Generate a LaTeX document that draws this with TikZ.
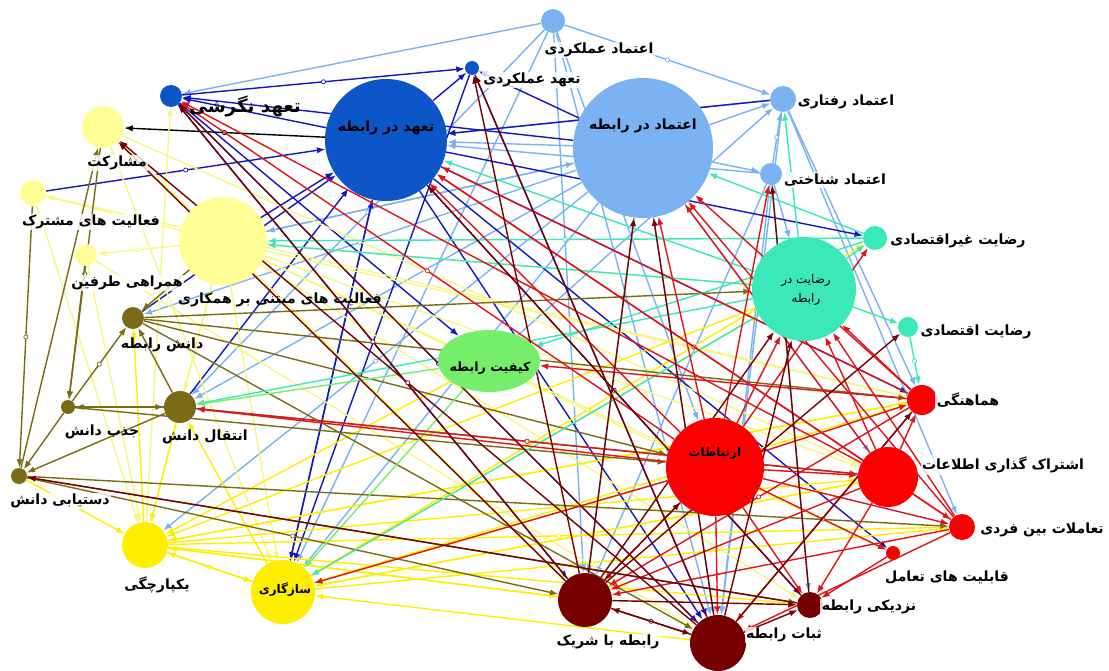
\documentclass[tikz,border=0pt]{standalone}
\usepackage{fontspec}
\newfontfamily\fafont[Script=Arabic]{DejaVu Sans}
\TeXXeTstate=1
\usetikzlibrary{positioning,arrows.meta,shapes.geometric,backgrounds,decorations.markings}
\definecolor{trBlue}{RGB}{122,178,242}
\definecolor{cmBlue}{RGB}{12,86,200}
\definecolor{cmNavy}{RGB}{22,22,190}
\definecolor{coopYel}{RGB}{255,255,150}
\definecolor{coopEdge}{RGB}{248,246,130}
\definecolor{intYel}{RGB}{255,238,0}
\definecolor{knOlive}{RGB}{122,108,22}
\definecolor{satAqua}{RGB}{58,232,184}
\definecolor{qualGreen}{RGB}{118,238,108}
\definecolor{comRed}{RGB}{250,0,0}
\definecolor{comEdge}{RGB}{225,20,25}
\definecolor{bondRed}{RGB}{118,0,0}
\newcommand\fatx[1]{\beginR #1\endR}
\tikzset{
    vtx/.style={circle, inner sep=0pt, minimum size=#1*0.5mm},
    lbl/.style={font=\fafont\bfseries\fontsize{10}{12}\selectfont, fill=white, fill opacity=0.8,
                text opacity=1, inner sep=1pt},
    inlbl/.style={font=\fafont\bfseries\fontsize{10}{12}\selectfont, align=center, inner sep=0pt},
    edge/.style={line width=1pt, -{Latex[length=6pt,width=4.5pt]}},
    mk/.style={postaction={decorate, decoration={markings,
               mark=at position #1 with {\draw[line width=0.5pt, fill=white] (0,0) circle (1.5pt);}}}},
    mk/.default=0.5,
    eTrust/.style={edge, color=trBlue},
    eCommit/.style={edge, color=cmNavy},
    eCoop/.style={edge, color=coopEdge},
    eInteg/.style={edge, color=intYel},
    eKnow/.style={edge, color=knOlive},
    eSat/.style={edge, color=satAqua},
    eQual/.style={edge, color=qualGreen},
    eComm/.style={edge, color=comEdge},
    eBond/.style={edge, color=bondRed}
}
\begin{document}
\begin{tikzpicture}[x=0.25mm, y=-0.25mm]
  \useasboundingbox (0,0) rectangle (1109,671);

  % trust
  \node[vtx=12, fill=trBlue] (trPerf) at (553,21) {};
  \node[vtx=70, fill=trBlue] (trRel) at (643,148) {};
  \node[vtx=13, fill=trBlue] (trBeh) at (783,99) {};
  \node[vtx=11, fill=trBlue] (trCog) at (771,174) {};
  % commitment
  \node[vtx=7, fill=cmBlue] (cmPerf) at (472,68) {};
  \node[vtx=11, fill=cmBlue] (cmAtt) at (171,96) {};
  \node[vtx=61, fill=cmBlue] (cmRel) at (386,140) {};
  % cooperation
  \node[vtx=21, fill=coopYel] (part) at (103,127) {};
  \node[vtx=13, fill=coopYel] (joint) at (33,193) {};
  \node[vtx=11, fill=coopYel] (accomp) at (86,255) {};
  \node[vtx=44, fill=coopYel] (coop) at (223,241) {};
  % knowledge
  \node[vtx=11, fill=knOlive] (knRel) at (133,318) {};
  \node[vtx=16, fill=knOlive] (knTr) at (180,407) {};
  \node[vtx=7, fill=knOlive] (knAbs) at (68,407) {};
  \node[vtx=8, fill=knOlive] (knAcq) at (19,476) {};
  % integration
  \node[vtx=23, fill=intYel] (integ) at (145,545) {};
  \node[vtx=32, fill=intYel] (adapt) at (283,592) {};
  % quality
  \node[ellipse, fill=qualGreen, minimum width=102*0.25mm, minimum height=62*0.25mm] (qual) at (489,361) {};
  % satisfaction
  \node[vtx=52, fill=satAqua] (satRel) at (804,289) {};
  \node[vtx=12, fill=satAqua] (satNon) at (875,238) {};
  \node[vtx=10, fill=satAqua] (satEco) at (908,327) {};
  % communication
  \node[vtx=15, fill=comRed] (coord) at (922,400) {};
  \node[vtx=49, fill=comRed] (comm) at (715,467) {};
  \node[vtx=30, fill=comRed] (info) at (888,477) {};
  \node[vtx=13, fill=comRed] (inter) at (962,527) {};
  \node[vtx=7, fill=comRed] (interCap) at (893,553) {};
  % bond
  \node[vtx=13, fill=bondRed] (close) at (810,605) {};
  \node[vtx=28, fill=bondRed] (stab) at (718,643) {};
  \node[vtx=27, fill=bondRed] (partner) at (585,600) {};

  \begin{scope}[on background layer]
    % trust links
    \foreach \a/\b in {trPerf/trBeh, trCog/trBeh, trRel/knRel, trRel/integ, trBeh/cmRel,
                       trRel/partner, trCog/close, trPerf/knTr}
      \draw[eTrust, mk] (\a) -- (\b);
    \foreach \a/\b in {trPerf/cmAtt, trPerf/partner, trPerf/stab, trPerf/adapt, trRel/cmRel,
                       trRel/trBeh, trRel/trCog, trBeh/coord, trBeh/inter, trBeh/stab,
                       trCog/cmRel, trCog/satRel, trRel/knTr, trRel/stab, trRel/adapt,
                       trRel/info, trRel/coop, trCog/partner, trPerf/comm, trCog/stab,
                       qual/trBeh, coop/trRel}
      \draw[eTrust] (\a) -- (\b);
    % commitment links
    \foreach \a/\b in {cmAtt/cmPerf, joint/cmRel, cmRel/satNon, cmAtt/stab, trRel/cmAtt,
                       cmRel/close}
      \draw[eCommit, mk] (\a) -- (\b);
    \foreach \a/\b in {cmRel/cmAtt, cmRel/cmPerf, trRel/cmPerf, trBeh/cmRel, cmRel/coord,
                       cmRel/interCap, cmRel/stab, cmPerf/adapt, cmRel/adapt, knTr/cmRel,
                       adapt/cmRel, coop/cmRel, cmAtt/qual, cmAtt/partner, cmPerf/stab,
                       knRel/cmRel}
      \draw[eCommit] (\a) -- (\b);
    \draw[edge, mk] (cmRel) -- (part);
    % cooperation links
    \foreach \a/\b in {coop/part, coop/joint, coop/accomp, integ/cmAtt, coop/comm,
                       coop/interCap, part/info}
      \draw[eCoop, mk] (\a) -- (\b);
    \foreach \a/\b in {coop/knRel, coop/knTr, coop/integ, coop/adapt, coop/coord,
                       coop/satRel, coop/info, coop/close, joint/integ, accomp/integ,
                       part/adapt, joint/coord, accomp/stab, coop/partner, part/partner}
      \draw[eCoop] (\a) -- (\b);
    % integration links
    \foreach \a/\b in {integ/adapt, integ/inter, adapt/satNon, knAcq/integ}
      \draw[eInteg, mk] (\a) -- (\b);
    \foreach \a/\b in {integ/knRel, integ/coord, integ/info, integ/close, integ/partner,
                       adapt/coord, adapt/info, adapt/inter, adapt/satRel, adapt/knTr,
                       coord/integ, info/adapt, partner/integ, qual/integ, comm/adapt,
                       satRel/integ, adapt/integ, knTr/integ, stab/adapt}
      \draw[eInteg] (\a) -- (\b);
    % knowledge links
    \foreach \a/\b in {part/knAbs, joint/knAcq, knRel/coord, knTr/info, knAbs/knRel,
                       knAcq/partner}
      \draw[eKnow, mk] (\a) -- (\b);
    \foreach \a/\b in {knTr/knRel, knAbs/knTr, knAcq/part, accomp/knAbs, coop/knRel,
                       knRel/satRel, knRel/comm, knAbs/knAcq, knAcq/inter, knAcq/close,
                       knTr/knAcq, knAbs/comm, knRel/stab, knTr/knAbs}
      \draw[eKnow] (\a) -- (\b);
    % satisfaction links
    \foreach \a/\b in {satNon/coop, satRel/trBeh, satEco/coord}
      \draw[eSat, mk] (\a) -- (\b);
    \foreach \a/\b in {satRel/cmRel, satRel/coop, satRel/knTr, satRel/satNon, satRel/satEco,
                       satNon/qual, satRel/adapt, satNon/trRel}
      \draw[eSat] (\a) -- (\b);
    % quality links
    \foreach \a/\b in {qual/adapt, qual/knTr}
      \draw[eQual] (\a) -- (\b);
    % communication links
    \foreach \a/\b in {comm/cmAtt, info/trRel, comm/interCap, inter/cmRel, coord/partner,
                       info/knTr, comm/satNon}
      \draw[eComm, mk] (\a) -- (\b);
    \foreach \a/\b in {comm/cmRel, info/cmRel, coord/cmRel, comm/trRel, coord/trRel,
                       inter/trRel, comm/trCog, comm/satRel, info/satRel, coord/satRel,
                       inter/satRel, comm/coord, comm/info, comm/inter, info/inter,
                       interCap/close, comm/close, info/close, comm/partner, info/partner,
                       inter/partner, comm/stab, comm/knTr, comm/adapt, info/coord,
                       coord/stab, inter/stab, info/cmAtt, coord/qual}
      \draw[eComm] (\a) -- (\b);
    % bond links
    \foreach \a/\b in {partner/stab, partner/cmAtt, stab/part}
      \draw[eBond, mk] (\a) -- (\b);
    \foreach \a/\b in {partner/cmPerf, stab/cmPerf, stab/cmAtt, close/cmRel, partner/part,
                       partner/trRel, stab/trRel, partner/satEco, partner/satRel,
                       stab/satRel, close/knAcq, partner/close, stab/close, partner/comm,
                       stab/coord, close/trCog, stab/partner}
      \draw[eBond] (\a) -- (\b);
  \end{scope}

  % labels
  \node[lbl] (trPerfL) at (599,50) {\fatx{اعتماد عملکردی}};
  \node[lbl] (cmPerfL) at (532,80) {\fatx{تعهد عملکردی}};
  \node[lbl, font=\fafont\bfseries\fontsize{13}{15}\selectfont, fill=none] (cmAttL) at (245,106) {\fatx{تعهد نگرشی}};
  \node[inlbl] (cmRelL) at (386,128) {\fatx{تعهد در رابطه}};
  \node[inlbl] (trRelL) at (643,126) {\fatx{اعتماد در رابطه}};
  \node[lbl] (trBehL) at (846,102) {\fatx{اعتماد رفتاری}};
  \node[lbl] (trCogL) at (835,180) {\fatx{اعتماد شناختی}};
  \node[lbl] (partL) at (117,163) {\fatx{مشارکت}};
  \node[lbl] (jointL) at (91,222) {\fatx{فعالیت های مشترک}};
  \node[lbl] (accompL) at (127,283) {\fatx{همراهی طرفین}};
  \node[lbl, fill=none] (coopL) at (280,300) {\fatx{فعالیت های مبتنی بر همکاری}};
  \node[lbl, fill=none] (knRelL) at (162,345) {\fatx{دانش رابطه}};
  \node[lbl, fill=none] (knTrL) at (205,437) {\fatx{انتقال دانش}};
  \node[lbl, fill=none] (knAbsL) at (102,432) {\fatx{جذب دانش}};
  \node[lbl] (knAcqL) at (60,501) {\fatx{دستیابی دانش}};
  \node[lbl] (integL) at (157,585) {\fatx{یکپارچگی}};
  \node[inlbl, font=\fafont\bfseries\fontsize{8.5}{10}\selectfont] (adaptL) at (285,590) {\fatx{سازگاری}};
  \node[inlbl, font=\fafont\bfseries\fontsize{9}{11}\selectfont] (qualL) at (490,368) {\fatx{کیفیت رابطه}};
  \node[inlbl, font=\fafont\fontsize{8.5}{14}\selectfont] (satRelL) at (806,290) {\fatx{رضایت در}\\\fatx{رابطه}};
  \node[lbl] (satNonL) at (958,241) {\fatx{رضایت غیراقتصادی}};
  \node[lbl] (satEcoL) at (976,332) {\fatx{رضایت اقتصادی}};
  \node[lbl] (coordL) at (968,400) {\fatx{هماهنگی}};
  \node[inlbl, font=\fafont\bfseries\fontsize{8.5}{10}\selectfont] (commL) at (715,453) {\fatx{ارتباطات}};
  \node[lbl] (infoL) at (1003,465) {\fatx{اشتراک گذاری اطلاعات}};
  \node[lbl] (interL) at (1042,530) {\fatx{تعاملات بین فردی}};
  \node[lbl] (interCapL) at (947,577) {\fatx{قابلیت های تعامل}};
  \node[lbl] (closeL) at (869,607) {\fatx{نزدیکی رابطه}};
  \node[lbl] (stabL) at (784,635) {\fatx{ثبات رابطه}};
  \node[lbl] (partnerL) at (608,642) {\fatx{رابطه با شریک}};
\end{tikzpicture}
\end{document}
